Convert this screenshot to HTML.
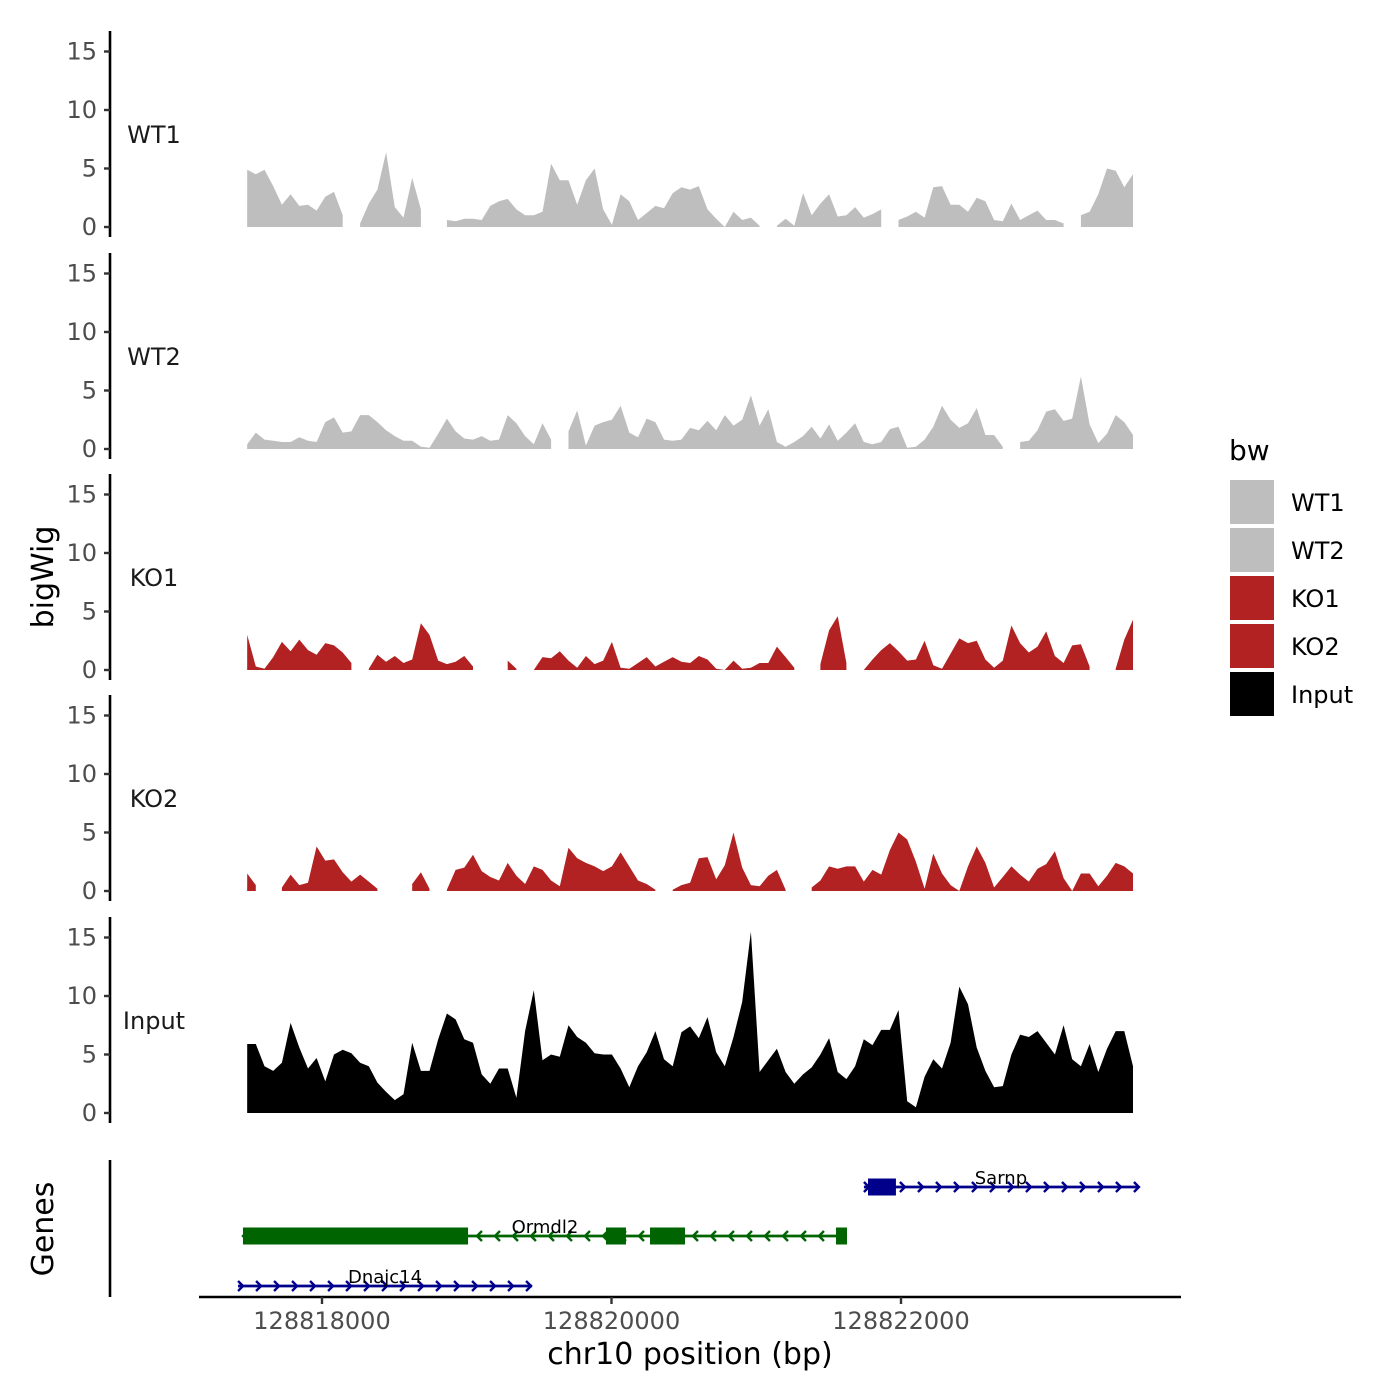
<!DOCTYPE html>
<html><head><meta charset="utf-8"><style>
html,body{margin:0;padding:0;background:#fff;}
svg{display:block;font-family:"DejaVu Sans","Liberation Sans",sans-serif;}
</style></head><body>
<svg id="chart" width="1400" height="1400" viewBox="0 0 1400 1400"></svg>
<script>
const binStart = 128817483;
const binStep = 60;
const trackNames = ["WT1","WT2","KO1","KO2","Input"];
const trackColors = ["#bebebe","#bebebe","#b22222","#b22222","#000000"];
const wt1 = [4.9,4.5,4.9,3.5,1.9,2.8,1.8,1.9,1.4,2.6,3.0,1.0,null,0.3,2.0,3.2,6.4,1.7,0.8,4.2,1.5,null,null,0.6,0.5,0.7,0.7,0.6,1.8,2.2,2.4,1.5,1.0,1.0,1.3,5.4,4.0,4.0,1.9,4.0,5.0,1.5,0.2,2.8,2.2,0.6,1.2,1.8,1.6,2.9,3.4,3.2,3.5,1.5,0.7,0.0,1.3,0.6,0.8,0.1,null,0.1,0.7,0.1,2.9,1.0,2.0,2.8,0.9,1.0,1.7,0.8,1.1,1.5,null,0.6,0.9,1.3,0.8,3.4,3.5,1.9,1.9,1.3,2.5,2.2,0.6,0.5,2.0,0.6,1.0,1.4,0.6,0.6,0.3,null,1.0,1.3,2.8,5.0,4.8,3.4,4.5];
const wt2 = [0.4,1.4,0.8,0.7,0.6,0.6,1.0,0.7,0.6,2.3,2.7,1.4,1.5,2.9,2.9,2.3,1.6,1.1,0.7,0.7,0.2,0.1,1.3,2.6,1.5,0.9,0.8,1.1,0.7,0.8,2.9,2.2,1.1,0.4,2.2,0.8,null,1.5,3.3,0.3,2.0,2.3,2.5,3.7,1.4,1.0,2.6,2.3,0.8,0.7,0.8,1.8,1.6,2.4,1.6,2.9,2.0,2.5,4.6,2.0,3.4,0.6,0.2,0.6,1.1,1.9,0.9,2.1,0.7,1.4,2.2,0.6,0.4,0.6,1.7,1.9,0.1,0.2,0.8,1.9,3.7,2.5,1.8,2.2,3.5,1.2,1.2,0.2,null,0.6,0.7,1.6,3.2,3.4,2.4,2.6,6.2,2.1,0.5,1.3,2.9,2.3,1.2];
const ko1 = [3.0,0.3,0.1,1.1,2.4,1.6,2.6,1.7,1.3,2.3,2.1,1.5,0.6,null,0.1,1.3,0.7,1.2,0.6,0.9,4.0,3.0,0.8,0.5,0.7,1.2,0.3,null,null,null,0.8,0.1,null,0.0,1.1,1.0,1.6,0.8,0.2,1.2,0.5,0.8,2.4,0.2,0.1,0.6,1.1,0.3,0.7,1.1,0.7,0.6,1.2,0.9,0.1,0.0,0.8,0.1,0.2,0.6,0.6,2.0,1.1,0.2,null,null,0.5,3.4,4.6,0.6,null,0.0,0.9,1.7,2.3,1.6,0.8,0.9,2.5,0.4,0.1,1.4,2.7,2.3,2.5,0.9,0.2,0.8,3.8,2.3,1.5,2.0,3.3,1.2,0.6,2.1,2.2,0.3,null,null,0.1,2.6,4.3];
const ko2 = [1.5,0.5,null,null,0.3,1.4,0.5,0.7,3.8,2.6,2.7,1.6,0.8,1.4,0.8,0.2,null,null,null,0.6,1.6,0.2,null,0.1,1.8,2.0,3.1,1.7,1.2,0.9,2.4,1.3,0.6,2.1,1.8,0.9,0.4,3.7,2.8,2.4,2.1,1.7,2.1,3.3,2.1,0.9,0.6,0.1,null,0.1,0.5,0.7,2.8,2.9,1.0,2.2,5.0,2.0,0.5,0.4,1.3,1.8,0.1,null,null,0.3,0.9,2.1,1.9,2.1,2.1,0.8,1.8,1.4,3.5,5.0,4.4,2.5,0.2,3.2,1.5,0.5,0.0,2.1,3.8,2.4,0.3,1.2,2.1,1.4,0.8,1.9,2.3,3.4,1.1,0.0,1.5,1.5,0.4,1.3,2.4,2.1,1.5];
const input = [5.9,5.9,4.0,3.6,4.3,7.7,5.6,3.8,4.7,2.7,5.0,5.4,5.1,4.3,4.0,2.6,1.8,1.1,1.6,6.0,3.6,3.6,6.3,8.5,8.0,6.3,6.0,3.3,2.5,3.8,3.8,1.3,7.0,10.5,4.5,5.0,4.8,7.5,6.5,6.0,5.1,5.0,5.0,3.8,2.2,4.0,5.2,7.0,4.6,4.0,6.9,7.4,6.4,8.2,5.2,4.0,6.5,9.5,15.5,3.5,4.5,5.5,3.5,2.5,3.3,3.9,5.0,6.4,3.5,2.9,4.0,6.3,5.8,7.1,7.1,8.8,1.0,0.5,3.1,4.6,3.8,6.0,10.8,9.3,5.6,3.6,2.2,2.3,5.0,6.7,6.5,7.0,6.0,5.0,7.5,4.6,4.0,5.9,3.5,5.5,7.0,7.0,4.0];
const yTicks = [0,5,10,15];
const xTicks = [128818000,128820000,128822000];
const geneNames = ["Sarnp","Ormdl2","Dnajc14"];
const geneStarts = [128821744,128817454,128817420];
const geneEnds = [128823637,128821627,128819451];
const geneStrands = ["+","-","+"];
const geneExons = [[[128821772,128821965]],[[128817454,128819009],[128819962,128820100],[128820266,128820508],[128821551,128821627]],[]];
const geneColors = ["#00008b","#006400","#00008b"];
const legendLabels = ["WT1","WT2","KO1","KO2","Input"];

const NS="http://www.w3.org/2000/svg";
const svg=document.getElementById('chart');
function mk(tag,attrs,parent){const e=document.createElementNS(NS,tag);for(const k in attrs)e.setAttribute(k,attrs[k]);(parent||svg).appendChild(e);return e;}
const xScale=bp=>322+(bp-128818000)*0.14475;
const zeros=[227,449,670,891,1113];
const pxPerUnit=11.7;
const series=[wt1,wt2,ko1,ko2,input];

series.forEach((vals,t)=>{
  const z0=zeros[t];
  const yS=v=>z0-v*pxPerUnit;
  const g=mk('g',{});
  
  
  const ax=mk('line',{x1:110,x2:110,y1:z0-196,y2:z0+10,stroke:'#000','stroke-width':2.6},g);
  
  
  yTicks.forEach(v=>{
    mk('line',{x1:104,x2:110,y1:yS(v),y2:yS(v),stroke:'#333','stroke-width':2.4},g);
    const tx=mk('text',{x:97,y:yS(v)+8,'text-anchor':'end','font-size':24,fill:'#4d4d4d'},g);
    tx.textContent=v;
    
    
  });
  const lab=mk('text',{x:154,y:z0-84,'text-anchor':'middle','font-size':24,fill:'#1a1a1a'},g);
  lab.textContent=trackNames[t];
  
  
  let seg=[];
  const flush=()=>{
    if(seg.length){
      let d='M'+seg[0][0]+','+z0;
      seg.forEach(p=>{d+=' L'+p[0].toFixed(1)+','+p[1].toFixed(1);});
      d+=' L'+seg[seg.length-1][0].toFixed(1)+','+z0+' Z';
      const p=mk('path',{d:d,fill:trackColors[t]},g);
      
      
    }
    seg=[];
  };
  vals.forEach((v,i)=>{
    if(v===null){flush();return;}
    seg.push([xScale(binStart+binStep*i),yS(v)]);
  });
  flush();
});

const yt=mk('text',{x:0,y:0,transform:'translate(53,577) rotate(-90)','text-anchor':'middle','font-size':30,fill:'#000'});
yt.textContent='bigWig';


const gt=mk('text',{x:0,y:0,transform:'translate(53,1229) rotate(-90)','text-anchor':'middle','font-size':30,fill:'#000'});
gt.textContent='Genes';



const gAx=mk('line',{x1:110,x2:110,y1:1160,y2:1297,stroke:'#000','stroke-width':2.6});


const geneY=[1187,1236,1286];
geneNames.forEach((n,k)=>{
  const g=mk('g',{});
  
  
  const y=geneY[k], c=geneColors[k];
  const x1=xScale(geneStarts[k]), x2=xScale(geneEnds[k]);
  mk('line',{x1:x1,x2:x2,y1:y,y2:y,stroke:c,'stroke-width':2.8},g);
  for(let x=x1+4;x<=x2+1;x+=18){
    const d=geneStrands[k]==='+'?`M${x-4},${y-5} L${x+1},${y} L${x-4},${y+5}`:`M${x+1},${y-5} L${x-4},${y} L${x+1},${y+5}`;
    mk('path',{d:d,stroke:c,'stroke-width':2.4,fill:'none'},g);
  }
  geneExons[k].forEach(e=>{
    const r=mk('rect',{x:xScale(e[0]),y:y-8.5,width:xScale(e[1])-xScale(e[0]),height:17,fill:c},g);
    
    
  });
  const t=mk('text',{x:(x1+x2)/2,y:y-3,'text-anchor':'middle','font-size':18,fill:'#000'},g);
  t.textContent=n;
  
  
});

const xa=mk('line',{x1:199,x2:1181,y1:1297,y2:1297,stroke:'#000','stroke-width':2.6});


xTicks.forEach(v=>{
  mk('line',{x1:xScale(v),x2:xScale(v),y1:1297,y2:1304,stroke:'#333','stroke-width':2.4});
  const t=mk('text',{x:xScale(v),y:1329,'text-anchor':'middle','font-size':24,fill:'#4d4d4d'});
  t.textContent=v;
  
  
});
const xt=mk('text',{x:690,y:1364,'text-anchor':'middle','font-size':30,fill:'#000'});
xt.textContent='chr10 position (bp)';



const lg=mk('g',{});


const lt=mk('text',{x:1229,y:460,'font-size':28,fill:'#000'},lg);
lt.textContent='bw';


legendLabels.forEach((n,i)=>{
  const y=480+i*48;
  const r=mk('rect',{x:1230,y:y,width:44,height:44,fill:trackColors[i]},lg);
  
  
  const t=mk('text',{x:1291,y:y+31,'font-size':24,fill:'#000'},lg);
  t.textContent=n;
  
  
});
</script>
</body></html>
